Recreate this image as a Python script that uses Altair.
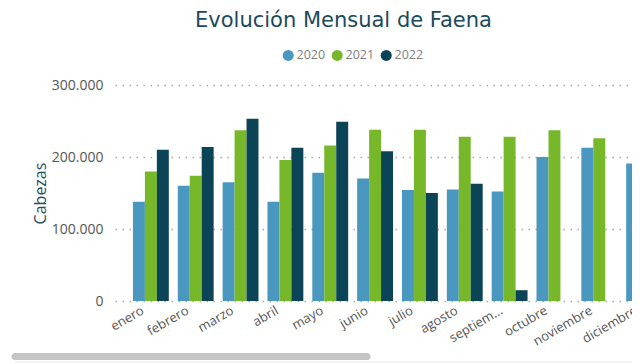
import altair as alt
import pandas as pd

months = ["enero", "febrero", "marzo", "abril", "mayo", "junio", "julio",
          "agosto", "septiembre", "octubre", "noviembre", "diciembre"]
years = ["2020", "2021", "2022"]
v2020 = [138000, 160000, 165000, 138000, 178000, 170000, 154000, 155000, 152000, 200000, 213000, 191000]
v2021 = [180000, 174000, 237000, 196000, 216000, 238000, 238000, 228000, 228000, 237000, 226000, 253000]
v2022 = [210000, 214000, 253000, 213000, 249000, 208000, 150000, 163000, 15000, None, None, None]
colors = ["#4a97bf", "#77b82a", "#0b4457"]

rows = []
for y, vals in zip(years, [v2020, v2021, v2022]):
    for m, v in zip(months, vals):
        if v is not None:
            rows.append({"mes": m, "anio": y, "cabezas": v})
df = pd.DataFrame(rows)

FONT = "Open Sans"

bars = alt.Chart(df).mark_bar(clip=True).encode(
    x=alt.X("mes:N", sort=months,
            scale=alt.Scale(paddingInner=0.2, paddingOuter=0.4, range=[0, 565]),
            axis=alt.Axis(title=None, labelAngle=-30, labelAlign="right", labelBaseline="top",
                          labelPadding=3, labelOffset=-11, domain=False, ticks=False, grid=False,
                          labelFontSize=13, labelColor="#555555", labelFont=FONT,
                          labelExpr="datum.label == 'septiembre' ? 'septiem...' : datum.label")),
    xOffset=alt.XOffset("anio:N", sort=years, scale=alt.Scale(paddingInner=0, paddingOuter=0)),
    y=alt.Y("cabezas:Q", scale=alt.Scale(domain=[0, 300000], nice=False),
            axis=alt.Axis(title="Cabezas", values=[0, 100000, 200000, 300000],
                          labelExpr="replace(format(datum.value, ',.0f'), ',', '.')",
                          domain=False, ticks=False, labelPadding=12,
                          labelFontSize=14, labelColor="#555555", labelFont=FONT,
                          titleFontSize=16, titleColor="#1e4d60", titleFont=FONT,
                          titleFontWeight="normal", titlePadding=3,
                          grid=True, gridDash=[1.5, 5.5], gridWidth=1.5, gridColor="#aaaaaa")),
    color=alt.Color("anio:N", sort=years,
                    scale=alt.Scale(domain=years, range=colors),
                    legend=alt.Legend(title=None, orient="none", direction="horizontal",
                                      legendX=167, legendY=-36, symbolType="circle",
                                      symbolSize=121, symbolStrokeWidth=0, labelFontSize=12.5,
                                      labelColor="#808080", labelFont=FONT, labelOffset=2,
                                      columnPadding=5, padding=0)),
)

scroll = alt.Chart(alt.Data(values=[{}])).mark_rule(
    color="#c4c4c4", strokeWidth=7, strokeCap="round"
).encode(x=alt.value(-100), x2=alt.value(252), y=alt.value(271.5))

track = alt.Chart(alt.Data(values=[{}])).mark_rule(
    color="#e6e6e6", strokeWidth=1
).encode(x=alt.value(-100), x2=alt.value(517), y=alt.value(277))

chart = alt.layer(bars, scroll, track).properties(
    width=517, height=216,
    title=alt.TitleParams("Evolución Mensual de Faena", anchor="start", frame="group",
                          dx=80, dy=21, fontSize=21, color="#1b4a5c", font="DejaVu Sans",
                          fontWeight="normal", baseline="alphabetic", offset=22),
    autosize=alt.AutoSizeParams(type="none"),
    padding={"left": 107, "top": 77, "right": 0, "bottom": 62},
).configure_view(stroke=None)

chart.save("out.html", embed_options={"renderer": "svg", "actions": False})
